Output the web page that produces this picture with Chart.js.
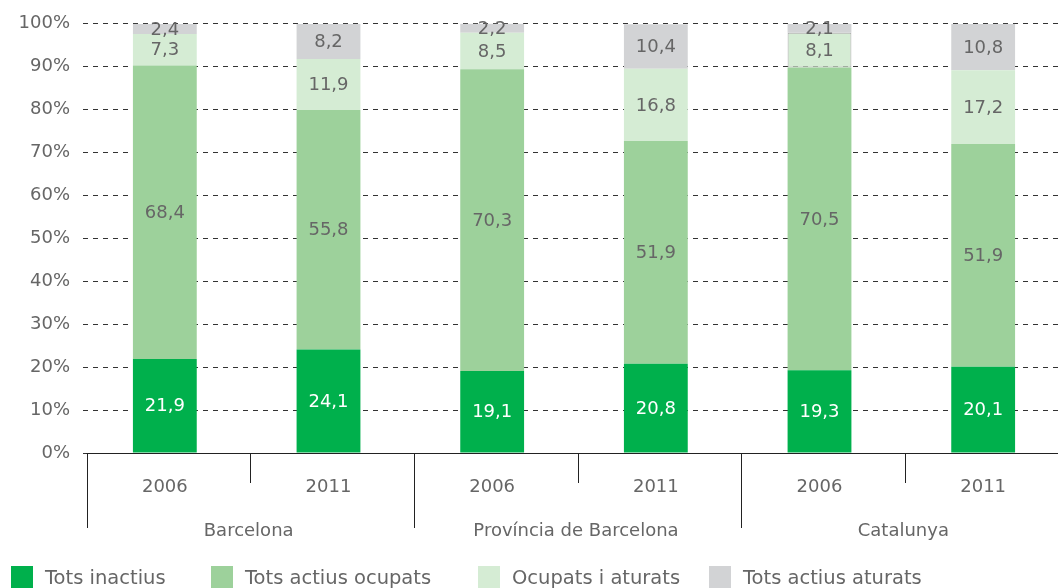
<!DOCTYPE html>
<html>
<head>
<meta charset="utf-8">
<script src="https://cdn.jsdelivr.net/npm/chart.js@4/dist/chart.umd.min.js"></script>
<style>
  html, body { margin:0; padding:0; background:#fff; overflow:hidden; }
  #wrap { position:relative; width:1070px; height:588px; }
  #legend { position:absolute; left:0; top:0; width:1058px; height:588px; pointer-events:none;
            font-family:"DejaVu Sans", sans-serif; font-size:19.5px; color:#666; }
  .li { position:absolute; top:566px; height:22px; white-space:nowrap; }
  .li .box { position:absolute; left:0; top:0; width:22px; height:22px; }
  .li .txt { position:absolute; left:34px; top:0px; line-height:24px; }
</style>
</head>
<body>
<div id="wrap">
  <canvas id="c" width="1070" height="588" style="width:1070px;height:588px;"></canvas>
  <div id="legend"></div>
</div>
<script>
const categories = ['2006', '2011', '2006', '2011', '2006', '2011'];
const groups = ['Barcelona', 'Província de Barcelona', 'Catalunya'];
const seriesNames = ['Tots inactius', 'Tots actius ocupats', 'Ocupats i aturats', 'Tots actius aturats'];
const totsInactius      = [21.9, 24.1, 19.1, 20.8, 19.3, 20.1];
const totsActiusOcupats = [68.4, 55.8, 70.3, 51.9, 70.5, 51.9];
const ocupatsIAturats   = [7.3, 11.9, 8.5, 16.8, 8.1, 17.2];
const totsActiusAturats = [2.4, 8.2, 2.2, 10.4, 2.1, 10.8];
const yTickValues = [0, 10, 20, 30, 40, 50, 60, 70, 80, 90, 100];

const colors = ['#00b04c', '#9dd19b', '#d5ecd4', '#d2d3d5'];
const labelColors = ['#ffffff', '#666666', '#666666', '#666666'];
const FONT = '"DejaVu Sans", sans-serif';

const seriesData = [totsInactius, totsActiusOcupats, ocupatsIAturats, totsActiusAturats];

const datasets = seriesData.map((d, i) => ({
  label: seriesNames[i],
  data: d,
  backgroundColor: colors[i],
  borderWidth: i === 2 ? [0, 0, 0, 0, 1, 0] : 0,
  borderColor: '#a5a5a5',
  borderSkipped: false,
  barPercentage: 0.39,
  categoryPercentage: 1.0
}));

// legend (HTML, real text)
const legendX = [11, 211, 478, 709];
const leg = document.getElementById('legend');
seriesNames.forEach((n, i) => {
  const d = document.createElement('div');
  d.className = 'li';
  d.style.left = legendX[i] + 'px';
  d.innerHTML = '<div class="box" style="background:' + colors[i] + '"></div><div class="txt"></div>';
  d.querySelector('.txt').textContent = n;
  leg.appendChild(d);
});

const valueLabels = {
  id: 'valueLabels',
  afterDatasetsDraw(chart) {
    const ctx = chart.ctx;
    ctx.save();
    ctx.font = '18px ' + FONT;
    ctx.textAlign = 'center';
    ctx.textBaseline = 'middle';
    chart.data.datasets.forEach((ds, di) => {
      const meta = chart.getDatasetMeta(di);
      meta.data.forEach((bar, idx) => {
        const v = ds.data[idx];
        const yMid = (bar.y + bar.base) / 2;
        ctx.fillStyle = labelColors[di];
        ctx.fillText(v.toFixed(1).replace('.', ','), bar.x, yMid + 1);
      });
    });
    ctx.restore();
  }
};

const axisDecor = {
  id: 'axisDecor',
  afterDraw(chart) {
    const ctx = chart.ctx;
    const xs = chart.scales.x;
    const area = chart.chartArea;
    const bottom = area.bottom;
    const step = (area.right - area.left) / categories.length;
    const shift = 3.5;
    ctx.save();
    ctx.strokeStyle = '#222';
    ctx.lineWidth = 1;
    // axis line
    ctx.beginPath();
    ctx.moveTo(area.left + shift, bottom + 0.5);
    ctx.lineTo(1070, bottom + 0.5);
    ctx.stroke();
    // separators
    for (let i = 0; i < categories.length; i++) {
      const x = Math.round(area.left + i * step + shift) + 0.5;
      const len = (i % 2 === 0) ? 75 : 30;
      ctx.beginPath();
      ctx.moveTo(x, bottom);
      ctx.lineTo(x, bottom + len);
      ctx.stroke();
    }
    // year labels
    ctx.fillStyle = '#666';
    ctx.font = '18px ' + FONT;
    ctx.textAlign = 'center';
    ctx.textBaseline = 'middle';
    categories.forEach((c, i) => {
      ctx.fillText(c, xs.getPixelForValue(i), bottom + 34);
    });
    // group labels
    groups.forEach((g, gi) => {
      const x = (xs.getPixelForValue(gi * 2) + xs.getPixelForValue(gi * 2 + 1)) / 2;
      ctx.fillText(g, x + 2, bottom + 78);
    });
    ctx.restore();
  }
};

new Chart(document.getElementById('c'), {
  type: 'bar',
  data: { labels: categories, datasets },
  options: {
    responsive: false,
    animation: false,
    events: [],
    layout: { padding: { top: 23, bottom: 135, right: 5, left: 0 } },
    plugins: { legend: { display: false }, tooltip: { enabled: false } },
    scales: {
      x: {
        stacked: true,
        display: false
      },
      y: {
        stacked: true,
        min: 0,
        max: 100,
        afterFit(scale) { scale.width = 83; },
        afterBuildTicks(scale) { scale.ticks = yTickValues.map(v => ({ value: v })); },
        ticks: {
          padding: 13,
          color: '#666',
          font: { family: FONT, size: 18 },
          callback: v => v + '%'
        },
        grid: { color: '#333', lineWidth: 1, drawTicks: false },
        border: { display: false, dash: [5, 5] }
      }
    }
  },
  plugins: [valueLabels, axisDecor]
});
</script>
</body>
</html>
